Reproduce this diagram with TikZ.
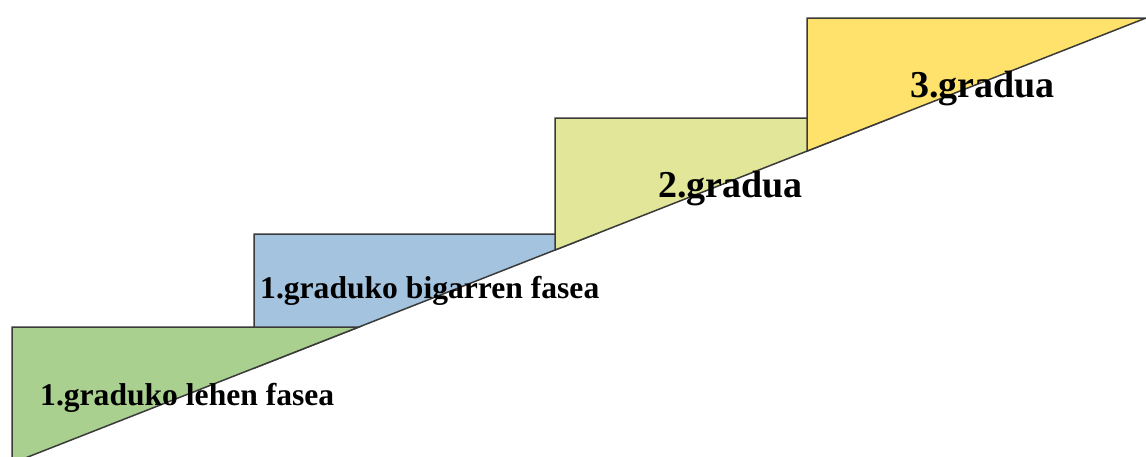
\documentclass[tikz,border=0pt]{standalone}
\usepackage{fontspec}
\setmainfont{Liberation Serif}
\usepackage{xcolor}

\definecolor{stepgreen}{RGB}{169,208,142}
\definecolor{stepblue}{RGB}{164,195,222}
\definecolor{steplime}{RGB}{226,230,152}
\definecolor{stepyellow}{RGB}{255,226,108}
\definecolor{stepedge}{RGB}{58,58,58}

\begin{document}
\begin{tikzpicture}[x=1pt, y=-1pt,
  stepface/.style={draw=stepedge, line width=1.5pt, line join=miter},
  steplabel/.style={anchor=base west, inner sep=0pt, font=\bfseries}]

% Page frame
\useasboundingbox (0,0) rectangle (1146,456);
\clip (0,0) rectangle (1146,456);

% Common slope line runs from (1146,18) down to the left
% Steps: number / left edge / top edge / colour (blue first, green lies over it)
\foreach \n/\xl/\yt/\col in {2/254/234/stepblue, 1/12/327/stepgreen,
                             3/555/118/steplime, 4/807/18/stepyellow} {
  \pgfmathsetmacro{\xr}{1146-(\yt-18)/0.3926}
  \pgfmathsetmacro{\yb}{18+0.3926*(1146-\xl)}
  \coordinate (T\n) at (\xl,\yt);
  \coordinate (R\n) at (\xr,\yt);
  \coordinate (B\n) at (\xl,\yb);
  \filldraw[stepface, fill=\col] (T\n) -- (R\n) -- (B\n) -- cycle;
}

% Labels
\node[steplabel, font=\bfseries\fontsize{31.6}{31.6}\selectfont] (lehen) at (40,405) {1.graduko lehen fasea};
\node[steplabel, font=\bfseries\fontsize{31.6}{31.6}\selectfont] (bigarren) at (260,298) {1.graduko bigarren fasea};
\node[steplabel, font=\bfseries\fontsize{38}{38}\selectfont] (bigarrena) at (658,197) {2.gradua};
\node[steplabel, font=\bfseries\fontsize{38}{38}\selectfont] (hirugarrena) at (910,97) {3.gradua};

\end{tikzpicture}
\end{document}
